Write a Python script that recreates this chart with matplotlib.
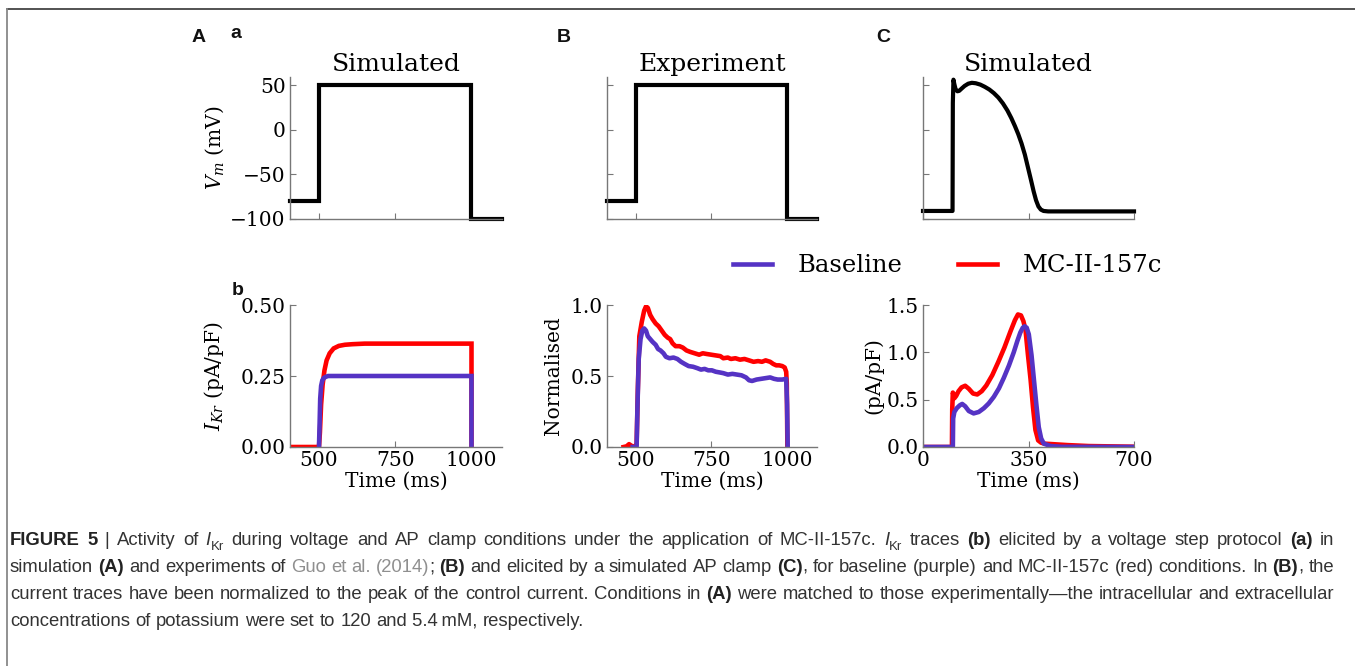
import re
import matplotlib
matplotlib.use("Agg")
import matplotlib.pyplot as plt
from matplotlib.lines import Line2D

# ---------------- data ----------------
# (A) voltage-step protocol (simulated) and (B) experimental protocol
step_t = [405, 500, 500, 1000, 1000, 1100]
step_v = [-80, -80, 50, 50, -100, -100]

# (C) simulated action potential clamp
ap_t = [0, 98, 99, 101, 104, 108, 114, 120, 128, 138, 150, 162, 175, 190, 205,
        220, 235, 250, 265, 280, 293, 305, 316, 327, 338, 348, 358, 367, 375, 383,
        391, 400, 415, 700]
ap_v = [-91, -91, 30, 56, 51, 45.5, 43, 43.5, 46, 49, 51.5, 52.5, 52, 50.5, 48,
        45, 41, 36, 29.5, 21.5, 13, 4, -5, -15.5, -28, -42, -56, -69, -79, -86,
        -89.5, -91, -91.5, -91.5]

# (A b) simulated IKr, voltage step
a_base_t = [500, 502, 504, 507, 511, 516, 522, 530, 1000, 1000]
a_base_v = [0.0, 0.08, 0.17, 0.215, 0.235, 0.243, 0.247, 0.25, 0.25, 0.0]
a_drug_t = [405, 500, 503, 507, 512, 518, 525, 535, 548, 565, 585, 610, 650, 1000, 1000]
a_drug_v = [0.0, 0.0, 0.05, 0.15, 0.22, 0.27, 0.305, 0.33, 0.347, 0.356, 0.360, 0.362, 0.364, 0.364, 0.0]

# (B) experiment, normalised
b_drug_t = [460, 470, 478, 485, 495, 503, 507, 512, 520, 528, 534, 540, 548, 556, 566, 576,
            586, 596, 606, 614, 622, 632, 645, 656, 668, 680, 695, 710, 722, 735, 750, 765,
            780, 790, 805, 815, 830, 845, 860, 875, 890, 905, 918, 930, 945, 955, 965, 975,
            985, 993, 998, 1000, 1002]
b_drug_v = [0.0, 0.005, 0.02, 0.01, 0.0, 0.02, 0.4, 0.78, 0.88, 0.96, 0.99, 0.98, 0.93, 0.90,
            0.87, 0.85, 0.82, 0.79, 0.77, 0.76, 0.73, 0.71, 0.71, 0.70, 0.68, 0.67, 0.66, 0.65,
            0.66, 0.655, 0.65, 0.645, 0.64, 0.625, 0.63, 0.62, 0.625, 0.615, 0.62, 0.61, 0.60,
            0.605, 0.60, 0.61, 0.60, 0.585, 0.575, 0.575, 0.57, 0.56, 0.53, 0.45, 0.0]
b_base_t = [490, 503, 506, 510, 516, 522, 528, 534, 540, 548, 556, 566, 574, 582, 592, 600,
            612, 625, 638, 650, 662, 675, 690, 704, 716, 728, 740, 752, 765, 778, 790, 805,
            820, 835, 850, 865, 875, 885, 900, 915, 930, 945, 958, 970, 985, 998, 1001, 1003]
b_base_v = [0.0, 0.0, 0.3, 0.62, 0.76, 0.82, 0.835, 0.82, 0.78, 0.76, 0.74, 0.72, 0.69, 0.68,
            0.66, 0.635, 0.625, 0.63, 0.62, 0.60, 0.585, 0.57, 0.565, 0.555, 0.545, 0.55, 0.54,
            0.54, 0.53, 0.525, 0.52, 0.51, 0.515, 0.51, 0.505, 0.49, 0.47, 0.465, 0.475, 0.48,
            0.485, 0.49, 0.48, 0.475, 0.475, 0.48, 0.3, 0.0]

# (C) simulated IKr during AP clamp
c_drug_t = [0, 96, 97, 99, 104, 110, 118, 128, 140, 152, 166, 180, 195, 210, 230, 250, 270,
            290, 305, 315, 325, 333, 340, 348, 357, 365, 373, 382, 392, 405, 430, 480, 550, 700]
c_drug_v = [0, 0, 0.40, 0.575, 0.515, 0.54, 0.59, 0.63, 0.647, 0.615, 0.565, 0.555, 0.59,
            0.65, 0.76, 0.90, 1.05, 1.22, 1.34, 1.40, 1.39, 1.33, 1.24, 0.98, 0.71, 0.42,
            0.18, 0.07, 0.045, 0.035, 0.03, 0.02, 0.01, 0.003]
c_base_t = [0, 99, 100, 104, 112, 122, 130, 140, 152, 168, 185, 202, 218, 235, 252, 268,
            285, 301, 313, 323, 331, 337, 344, 351, 360, 368, 376, 384, 392, 401, 423, 460, 700]
c_base_v = [0, 0, 0.30, 0.37, 0.41, 0.44, 0.455, 0.43, 0.38, 0.355, 0.37, 0.41, 0.46, 0.53,
            0.62, 0.73, 0.86, 1.0, 1.12, 1.21, 1.26, 1.275, 1.26, 1.19, 0.97, 0.71, 0.45,
            0.21, 0.09, 0.035, 0.01, 0.002, 0.0]

legend_labels = ["Baseline", "MC-II-157c"]
titles = ["Simulated", "Experiment", "Simulated"]

# ---------------- style ----------------
W, H = 1355, 666
PURPLE = "#5533c4"
RED = "#ff0000"
SPINE = "#777777"
TICK_FS = 14.5
plt.rcParams["font.family"] = "DejaVu Serif"
plt.rcParams["mathtext.fontset"] = "dejavuserif"

fig = plt.figure(figsize=(W / 100, H / 100), dpi=100)
fig.patch.set_facecolor("white")


def px_axes(x0, ytop, x1, ybot):
    return fig.add_axes([x0 / W, 1 - ybot / H, (x1 - x0) / W, (ybot - ytop) / H])


def style(ax):
    for s in ("top", "right"):
        ax.spines[s].set_visible(False)
    for s in ("left", "bottom"):
        ax.spines[s].set_color(SPINE)
        ax.spines[s].set_linewidth(1.0)
    ax.tick_params(direction="in", length=4, width=0.8, color=SPINE,
                   labelsize=TICK_FS, pad=3)
    ax.patch.set_alpha(0)


cols = [(290, 502), (607, 817), (923, 1134)]
top_axes = [px_axes(c[0], 77, c[1], 219) for c in cols]
bot_axes = [px_axes(c[0], 305, c[1], 447) for c in cols]

# top row
for i, ax in enumerate(top_axes):
    style(ax)
    ax.set_ylim(-100, 59)
    ax.set_yticks([-100, -50, 0, 50])
    ax.set_title(titles[i], fontsize=18, pad=4)
    if i < 2:
        ax.plot(step_t, step_v, color="black", lw=3.0, clip_on=False, solid_joinstyle="miter")
        ax.set_xlim(405, 1100)
        ax.set_xticks([500, 750, 1000])
    else:
        ax.plot(ap_t, ap_v, color="black", lw=3.0, clip_on=False)
        ax.set_xlim(0, 700)
        ax.set_xticks([0, 350, 700])
    ax.set_xticklabels([])
    if i > 0:
        ax.set_yticklabels([])
top_axes[0].set_ylabel("$V_m$ (mV)", fontsize=TICK_FS)
top_axes[0].yaxis.set_label_coords(-0.30, 0.5)

LW = 3.3
# bottom row
axb = bot_axes[0]
style(axb)
axb.plot(a_drug_t, a_drug_v, color=RED, lw=LW, solid_joinstyle="miter")
axb.plot(a_base_t, a_base_v, color=PURPLE, lw=LW, solid_joinstyle="miter")
axb.set_xlim(405, 1100)
axb.set_ylim(0, 0.5)
axb.set_xticks([500, 750, 1000])
axb.set_yticks([0, 0.25, 0.5])
axb.set_yticklabels(["0.00", "0.25", "0.50"])
axb.set_ylabel("$I_{Kr}$ (pA/pF)", fontsize=TICK_FS)
axb.yaxis.set_label_coords(-0.30, 0.5)

axb = bot_axes[1]
style(axb)
axb.plot(b_drug_t, b_drug_v, color=RED, lw=LW)
axb.plot(b_base_t, b_base_v, color=PURPLE, lw=LW)
axb.set_xlim(405, 1100)
axb.set_ylim(0, 1.0)
axb.set_xticks([500, 750, 1000])
axb.set_yticks([0, 0.5, 1.0])
axb.set_ylabel("Normalised", fontsize=TICK_FS)
axb.yaxis.set_label_coords(-0.21, 0.5)

axb = bot_axes[2]
style(axb)
axb.plot(c_drug_t, c_drug_v, color=RED, lw=LW)
axb.plot(c_base_t, c_base_v, color=PURPLE, lw=LW)
axb.set_xlim(0, 700)
axb.set_ylim(0, 1.5)
axb.set_xticks([0, 350, 700])
axb.set_yticks([0, 0.5, 1.0, 1.5])
axb.set_ylabel("(pA/pF)", fontsize=TICK_FS)
axb.yaxis.set_label_coords(-0.19, 0.5)

for ax in bot_axes:
    ax.set_xlabel("Time (ms)", fontsize=TICK_FS, labelpad=1)

# legend
handles = [Line2D([], [], color=PURPLE, lw=3.3), Line2D([], [], color=RED, lw=3.3)]
fig.legend(handles, legend_labels, loc="center", bbox_to_anchor=(947.5 / W, 1 - 266 / H),
           ncol=2, frameon=False, fontsize=17.5, handlelength=1.6, handletextpad=1.05,
           columnspacing=2.3)

# panel letters
let_kw = dict(family="Liberation Sans", weight="bold", fontsize=14, color="#111111",
              ha="center", va="baseline")
for s, x, y in [("A", 199, 42), ("a", 236, 38.5), ("B", 564, 42), ("C", 883, 42),
                ("b", 238, 295)]:
    fig.text(x / W, 1 - y / H, s, **let_kw)

# frame
fig.add_artist(Line2D([7 / W, 1], [1 - 8.5 / H, 1 - 8.5 / H], color="#444444", lw=1.3))
fig.add_artist(Line2D([7.5 / W, 7.5 / W], [1 - 8.5 / H, 0], color="#888888", lw=1.3))

# ---------------- caption ----------------
caption_lines = [
    [("FIGURE 5", "b"), (" | Activity of ", "n"), ("I", "i"), ("Kr", "s"),
     (" during voltage and AP clamp conditions under the application of MC-II-157c. ", "n"),
     ("I", "i"), ("Kr", "s"), (" traces ", "n"), ("(b)", "b"),
     (" elicited by a voltage step protocol ", "n"), ("(a)", "b"), (" in", "n")],
    [("simulation ", "n"), ("(A)", "b"), (" and experiments of ", "n"), ("Guo et al. (2014)", "l"),
     ("; ", "n"), ("(B)", "b"), (" and elicited by a simulated AP clamp ", "n"), ("(C)", "b"),
     (", for baseline (purple) and MC-II-157c (red) conditions. In ", "n"), ("(B)", "b"),
     (", the", "n")],
    [("current traces have been normalized to the peak of the control current. Conditions in ", "n"),
     ("(A)", "b"), (" were matched to those experimentally\u2014the intracellular and extracellular", "n")],
    [("concentrations of potassium were set to 120 and 5.4\u2009mM, respectively.", "n")],
]
justify = [True, True, True, False]

renderer = fig.canvas.get_renderer()
CAP_FONT = "Liberation Sans"


def run_props(st, size):
    p = dict(family=CAP_FONT, fontsize=size, color="#333333", weight="normal", style="normal")
    if st == "b":
        p.update(weight="bold", color="#222222")
    elif st == "i":
        p.update(style="italic")
    elif st == "s":
        p.update(fontsize=size * 0.72)
    elif st == "l":
        p.update(color="#8f8f8f")
    return p


def text_w(s, props):
    if not s:
        return 0.0
    t = fig.text(0, 0, s, **props)
    w = t.get_window_extent(renderer).width
    t.remove()
    return w


def tokens(runs, size):
    out = []  # (kind, text, style, width, nspaces)
    for s, st in runs:
        p = run_props(st, size)
        sw = text_w("x x", p) - text_w("xx", p)
        for piece in re.split(r"( +)", s):
            if not piece:
                continue
            if piece.strip() == "":
                out.append(("sp", piece, st, sw * len(piece), len(piece)))
            else:
                out.append(("w", piece, st, text_w(piece, p), 0))
    return out


def natural_width(runs, size):
    return sum(t[3] for t in tokens(runs, size))


X0, TARGET = 10, 1324
size = 10.0
for _ in range(2):
    wmax = max(natural_width(r, size) for r in caption_lines)
    size = size * TARGET / wmax

ys = [545, 572, 599, 626]
for runs, yb, jus in zip(caption_lines, ys, justify):
    toks = tokens(runs, size)
    nat = sum(t[3] for t in toks)
    nsp = sum(t[4] for t in toks)
    extra = (TARGET - nat) / nsp if (jus and nsp) else 0.0
    x = X0
    for kind, txt, st, w, n in toks:
        if kind == "sp":
            x += w + extra * n
            continue
        p = run_props(st, size)
        dy = -0.28 * size * 100 / 72 if st == "s" else 0
        fig.text(x / W, 1 - (yb - dy) / H, txt, va="baseline", ha="left", **p)
        x += w

fig.savefig("out.png", dpi=100)
